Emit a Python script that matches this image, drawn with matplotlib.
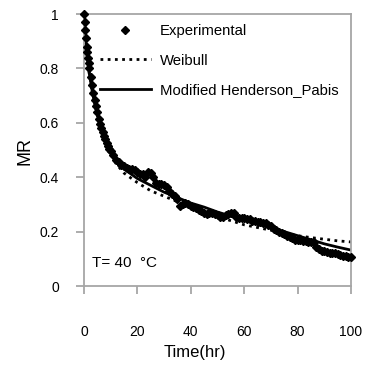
import matplotlib
matplotlib.use("Agg")
import matplotlib.pyplot as plt

plt.rcParams['font.family'] = ['Liberation Sans', 'DejaVu Sans']

# Experimental data
t_exp = [0, 0.25, 0.5, 0.75, 1, 1.25, 1.5, 1.75, 2, 2.5, 3, 3.5, 4, 4.5, 5, 5.5, 6, 6.5, 7, 7.5,
         8, 8.5, 9, 9.5, 10, 11, 12, 13, 14, 15, 16, 17, 18, 19, 20, 21, 22, 23, 24, 25,
         26, 27, 28, 29, 30, 31, 32, 33, 34, 35, 36, 37, 38, 39, 40, 41, 42, 43, 44, 45,
         46, 47, 48, 49, 50, 51, 52, 53, 54, 55, 56, 57, 58, 59, 60, 61, 62, 63, 64, 65,
         66, 67, 68, 69, 70, 71, 72, 73, 74, 75, 76, 77, 78, 79, 80, 81, 82, 83, 84, 85,
         86, 87, 88, 89, 90, 91, 92, 93, 94, 95, 96, 97, 98, 99, 100]
mr_exp = [1.0, 0.97, 0.94, 0.91, 0.88, 0.86, 0.84, 0.82, 0.80, 0.77, 0.74, 0.71, 0.685, 0.66, 0.64,
          0.615, 0.595, 0.58, 0.565, 0.55, 0.54, 0.525, 0.515, 0.505, 0.495, 0.48, 0.465, 0.455,
          0.445, 0.44, 0.435, 0.43, 0.43, 0.425, 0.42, 0.41, 0.41, 0.40, 0.42, 0.415, 0.40, 0.38,
          0.375, 0.375, 0.37, 0.365, 0.35, 0.34, 0.33, 0.32, 0.295, 0.30, 0.305, 0.30, 0.295,
          0.29, 0.285, 0.28, 0.275, 0.27, 0.265, 0.27, 0.27, 0.265, 0.26, 0.255, 0.255, 0.26,
          0.265, 0.27, 0.27, 0.255, 0.25, 0.25, 0.25, 0.245, 0.245, 0.24, 0.24, 0.235, 0.235,
          0.23, 0.23, 0.225, 0.22, 0.21, 0.205, 0.2, 0.195, 0.19, 0.185, 0.18, 0.175, 0.17,
          0.17, 0.168, 0.165, 0.165, 0.163, 0.162, 0.16, 0.145, 0.135, 0.13, 0.128, 0.125,
          0.123, 0.12, 0.12, 0.118, 0.115, 0.112, 0.11, 0.107, 0.105]

# Model curves
t_model = [0, 1, 2, 3, 4, 5, 6, 8, 10, 12, 15, 20, 25, 30, 35, 40, 45, 50, 55, 60, 65, 70,
           75, 80, 85, 90, 95, 100]
mr_weibull = [1.0, 0.86, 0.78, 0.72, 0.67, 0.63, 0.59, 0.53, 0.485, 0.45, 0.415, 0.38, 0.35,
              0.33, 0.31, 0.29, 0.272, 0.255, 0.24, 0.225, 0.215, 0.205, 0.195, 0.185, 0.178,
              0.172, 0.166, 0.162]
mr_mhp = [1.0, 0.86, 0.78, 0.72, 0.67, 0.63, 0.59, 0.535, 0.49, 0.46, 0.43, 0.395, 0.37,
          0.345, 0.325, 0.305, 0.29, 0.272, 0.257, 0.243, 0.228, 0.213, 0.2, 0.185, 0.17,
          0.155, 0.143, 0.132]

x_ticks = [0, 20, 40, 60, 80, 100]
y_ticks = [0, 0.2, 0.4, 0.6, 0.8, 1]
y_ticklabels = ['0', '0.2', '0.4', '0.6', '0.8', '1']

W, H = 371, 367
fig = plt.figure(figsize=(W/100, H/100), dpi=100)
ax = fig.add_axes([84/W, 1-286/H, (351-84)/W, (286-14)/H])

ax.plot(t_exp, mr_exp, linestyle='none', marker='D', markersize=3.6, color='black',
        label='Experimental', clip_on=False, zorder=3)
ax.plot(t_model, mr_weibull, linestyle=(0, (1, 1.6)), linewidth=2.0, color='black',
        label='Weibull', zorder=2)
ax.plot(t_model, mr_mhp, linestyle='-', linewidth=2.0, color='black',
        label='Modified Henderson_Pabis', zorder=2)

ax.set_xlim(0, 100)
ax.set_ylim(0, 1)
ax.set_xticks(x_ticks)
ax.set_xticklabels([str(v) for v in x_ticks])
ax.set_yticks(y_ticks)
ax.set_yticklabels(y_ticklabels)

for s in ax.spines.values():
    s.set_color('#a6a6a6')
    s.set_linewidth(1.3)
ax.tick_params(axis='both', direction='out', length=6, width=1.3, color='#a6a6a6',
               labelsize=10, labelcolor='black')
ax.tick_params(axis='x', pad=22)
ax.tick_params(axis='y', pad=12)

leg = ax.legend(loc='upper left', bbox_to_anchor=(100/W, 1-24/H),
                bbox_transform=fig.transFigure, frameon=False, fontsize=10.7,
                handlelength=3.4, labelspacing=1.05, handletextpad=0.65, borderaxespad=0,
                borderpad=0, markerscale=1.0)

ax.text(92/W, 1-263/H, 'T= 40  \u00b0C', transform=fig.transFigure, fontsize=11,
        ha='left', va='center')

fig.text(195/W, 1-353/H, 'Time(hr)', ha='center', va='center', fontsize=12)
fig.text(25/W, 1-151/H, 'MR', ha='center', va='center', rotation=90, fontsize=13)

fig.savefig('out.png', dpi=100)
